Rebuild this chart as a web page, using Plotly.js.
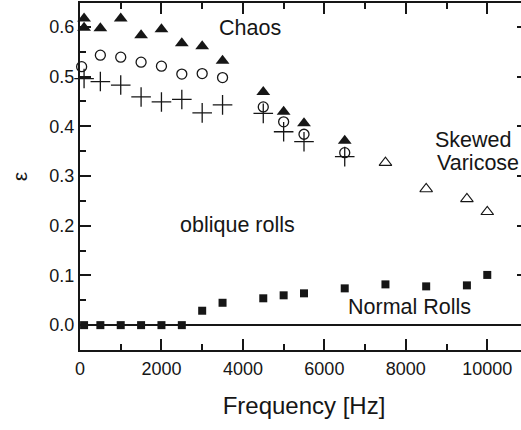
<!DOCTYPE html>
<html>
<head>
<meta charset="utf-8">
<script src="https://cdn.plot.ly/plotly-3.0.1.min.js"></script>
<style>
  html, body { margin: 0; padding: 0; width: 521px; height: 430px; overflow: hidden; background: #fff; }
  #chart { width: 535px; height: 430px; }
</style>
</head>
<body>
<div id="chart"></div>
<script>
// Onset thresholds epsilon vs. driving frequency
const chaosFreq = [100, 100, 500, 1000, 1500, 2000, 2500, 3000, 3500, 4500, 5000, 5500, 6500];
const chaosEps  = [0.617, 0.598, 0.597, 0.617, 0.583, 0.595, 0.567, 0.561, 0.532, 0.469, 0.429, 0.406, 0.371];

const circleFreq = [40, 500, 1000, 1500, 2000, 2500, 3000, 3500, 4500, 5000, 5500, 6500];
const circleEps  = [0.520, 0.543, 0.539, 0.529, 0.521, 0.505, 0.506, 0.498, 0.439, 0.409, 0.384, 0.347];

const plusFreq = [100, 500, 1000, 1500, 2000, 2500, 3000, 3500, 4500, 5000, 5500, 6500];
const plusEps  = [0.496, 0.490, 0.483, 0.459, 0.449, 0.454, 0.427, 0.443, 0.426, 0.389, 0.369, 0.339];

const skewedFreq = [7500, 8500, 9500, 10000];
const skewedEps  = [0.327, 0.274, 0.254, 0.228];

const normalFreq = [100, 500, 1000, 1500, 2000, 2500, 3000, 3500, 4500, 5000, 5500, 6500, 7500, 8500, 9500, 10000];
const normalEps  = [0, 0, 0, 0, 0, 0, 0.029, 0.045, 0.054, 0.060, 0.064, 0.074, 0.082, 0.078, 0.080, 0.101];

const xTicks = [0, 2000, 4000, 6000, 8000, 10000];

const FONT = 'Liberation Sans, Arial, Helvetica, sans-serif';
const INK = '#161616';

const traces = [
  { x: chaosFreq, y: chaosEps, mode: 'markers', cliponaxis: false,
    marker: { symbol: 'triangle-up', size: 12, color: INK } },
  { x: circleFreq, y: circleEps, mode: 'markers', cliponaxis: false,
    marker: { symbol: 'circle-open', size: 10, color: INK, line: { width: 1.3, color: INK } } },
  { x: plusFreq, y: plusEps, mode: 'markers', cliponaxis: false,
    marker: { symbol: 'cross-thin-open', size: 14, color: INK, line: { width: 1.3, color: INK } } },
  { x: skewedFreq, y: skewedEps, mode: 'markers', cliponaxis: false,
    marker: { symbol: 'triangle-up-open', size: 11, color: INK, line: { width: 1.1, color: INK } } },
  { x: normalFreq, y: normalEps, mode: 'markers', cliponaxis: false,
    marker: { symbol: 'square', size: 8, color: INK } }
];

const axisCommon = {
  showline: true, linewidth: 2, linecolor: INK, mirror: 'ticks',
  ticks: 'inside', ticklen: 11, tickwidth: 2, tickcolor: INK,
  showgrid: false,
  tickfont: { family: FONT, size: 18, color: INK }
};

const layout = {
  width: 535, height: 430,
  margin: { l: 80, r: 7, t: 3, b: 80 },
  paper_bgcolor: '#fff', plot_bgcolor: '#fff',
  showlegend: false,
  font: { family: FONT, color: INK },
  xaxis: Object.assign({}, axisCommon, {
    range: [0, 11000],
    tickvals: xTicks, ticktext: xTicks.map(String),
    zeroline: false,
    minor: { dtick: 1000, tick0: 0, ticks: 'inside', ticklen: 6, tickwidth: 2, tickcolor: INK },
    ticklabelstandoff: 1,
    title: { text: 'Frequency [Hz]', font: { family: FONT, size: 24, color: INK }, standoff: 20 }
  }),
  yaxis: Object.assign({}, axisCommon, {
    range: [-0.05, 0.648],
    tick0: 0, dtick: 0.1, tickformat: '.1f',
    zeroline: true, zerolinecolor: INK, zerolinewidth: 2,
    minor: { dtick: 0.05, tick0: 0, ticks: 'inside', ticklen: 6, tickwidth: 2, tickcolor: INK },
    ticklabelstandoff: 0,
    title: { text: 'ε', font: { family: FONT, size: 21, color: INK }, standoff: 16 }
  }),
  annotations: [
    { text: 'Chaos', x: 4174, y: 0.598, xanchor: 'center', yanchor: 'middle' },
    { text: 'oblique rolls', x: 3867, y: 0.201, xanchor: 'center', yanchor: 'middle' },
    { text: 'Skewed', x: 8667, y: 0.372, xanchor: 'left', yanchor: 'middle' },
    { text: 'Varicose', x: 8716, y: 0.327, xanchor: 'left', yanchor: 'middle' },
    { text: 'Normal Rolls', x: 8090, y: 0.037, xanchor: 'center', yanchor: 'middle' }
  ].map(a => Object.assign({ xref: 'x', yref: 'y', showarrow: false,
    font: { family: FONT, size: 21.5, color: INK } }, a))
};

Plotly.newPlot('chart', traces, layout, { displayModeBar: false, staticPlot: true });
</script>
</body>
</html>
